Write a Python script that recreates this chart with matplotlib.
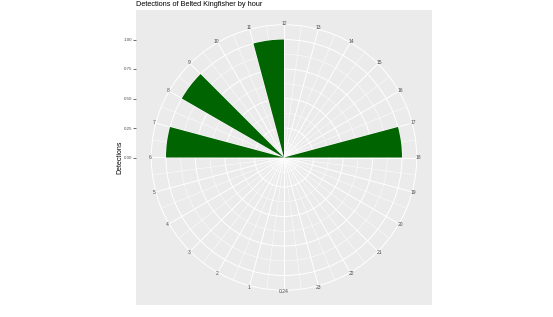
import numpy as np
import matplotlib
matplotlib.use("Agg")
import matplotlib.pyplot as plt

plt.rcParams['font.family'] = ['Liberation Sans', 'DejaVu Sans']

# detections per hour of day (only hours with a detection)
hours = [6, 8, 11, 17]
detections = [1, 1, 1, 1]

hour_labels = ["0/24"] + [str(h) for h in range(1, 24)]
r_ticks = [0.0, 0.25, 0.50, 0.75, 1.00]
r_tick_labels = ["0.00", "0.25", "0.50", "0.75", "1.00"]

bg = "#EBEBEB"
bar_col = "#006400"
txt_col = "#4D4D4D"

W, H = 553, 317
fig = plt.figure(figsize=(W / 100, H / 100), dpi=100)

# gray panel, in the same units as the radius so the y ticks line up
px0, py0, pw, ph = 136, 12, 296, 295
panel = fig.add_axes([px0 / W, py0 / H, pw / W, ph / H])
panel.set_facecolor(bg)
panel.set_xlim(-1.25, 1.25)
panel.set_ylim(-1.25, 1.25)
panel.set_xticks([])
panel.set_yticks(r_ticks)
panel.set_yticklabels(r_tick_labels)
panel.tick_params(axis='y', length=2, width=0.5, color="#333333",
                  labelsize=3.2, labelcolor=txt_col, pad=1)
for s in panel.spines.values():
    s.set_visible(False)
panel.set_ylabel("Detections", fontsize=5)
panel.yaxis.set_label_coords(-0.043, 0.5)
panel.set_title("Detections of Belted Kingfisher by hour", loc='left',
                fontsize=5.3, pad=3)

# polar axes sits inside the panel, outer ring at r = 1.125
rmax = 1.125
k = rmax / 1.25
cx, cy = px0 + pw / 2, py0 + ph / 2
pr_w, pr_h = pw * k, ph * k
ax = fig.add_axes([(cx - pr_w / 2) / W, (cy - pr_h / 2) / H, pr_w / W, pr_h / H],
                  projection='polar')
ax.patch.set_alpha(0)
ax.set_theta_zero_location('S')
ax.set_theta_direction(-1)
ax.set_ylim(0, rmax)
ax.set_axisbelow(True)

to_rad = 2 * np.pi / 24
ax.bar(np.array(hours) * to_rad, detections, width=to_rad, align='edge',
       color=bar_col, edgecolor='none', zorder=3)

ax.set_xticks(np.arange(24) * to_rad)
ax.set_xticks((np.arange(24) + 0.5) * to_rad, minor=True)
ax.set_yticks([0.25, 0.5, 0.75, 1.0])
ax.set_yticks([0.125, 0.375, 0.625, 0.875], minor=True)
ax.set_xticklabels([])
ax.set_yticklabels([])
ax.tick_params(which='both', length=0)
ax.grid(which='major', color='white', lw=0.7)
ax.grid(which='minor', color='white', lw=0.35)
ax.spines['polar'].set_color('white')
ax.spines['polar'].set_linewidth(0.7)

for h, lab in enumerate(hour_labels):
    ax.text(h * to_rad, rmax * 1.012, lab, ha='center', va='center',
            fontsize=3.6, color=txt_col, clip_on=False)

fig.savefig("out.png", dpi=100, facecolor='white')
